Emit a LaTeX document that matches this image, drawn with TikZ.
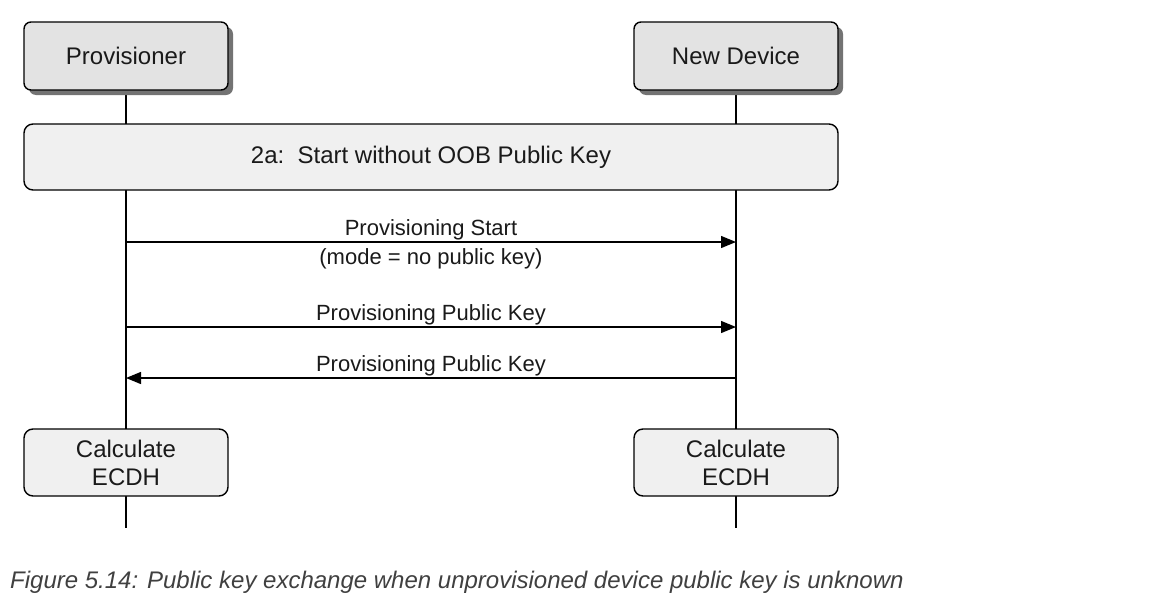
\documentclass[tikz,border=0pt]{standalone}
\usepackage{fontspec}
\setmainfont{Liberation Sans}
\usetikzlibrary{arrows.meta,shadows}
\definecolor{txt}{HTML}{1A1A1A}
\definecolor{hdrfill}{HTML}{E3E3E3}
\definecolor{boxfill}{HTML}{F0F0F0}
\definecolor{capc}{HTML}{404040}
\tikzset{
  lbl/.style={font=\fontsize{22}{27}\selectfont, text=txt},
  big/.style={font=\fontsize{24}{28}\selectfont, text=txt},
  hdr/.style={draw=black, line width=1.4pt, rounded corners=7pt, fill=hdrfill,
    minimum width=204pt, minimum height=68pt, big,
    drop shadow={shadow xshift=5pt, shadow yshift=-5pt, fill=black!55, opacity=1}},
  band/.style={draw=black, line width=1.4pt, rounded corners=9pt, fill=boxfill,
    minimum width=814pt, minimum height=66pt, big},
  calc/.style={draw=black, line width=1.4pt, rounded corners=9pt, fill=boxfill,
    minimum width=204pt, minimum height=67pt, big, align=center, inner sep=0pt},
  life/.style={line width=1.4pt, black},
  msg/.style={line width=1.3pt, black, -{Triangle[length=15pt,width=12pt]}},
}
\begin{document}
\begin{tikzpicture}[x=1pt,y=-1pt]
\useasboundingbox[fill=white] (0,0) rectangle (1159,608);
% lifelines
\coordinate (pt) at (126,90);
\coordinate (pb) at (126,528);
\coordinate (dt) at (736,90);
\coordinate (db) at (736,528);
\draw[life] (pt) -- (pb);
\draw[life] (dt) -- (db);
% header boxes
\node[hdr] (prov) at (126,56) {Provisioner};
\node[hdr] (dev) at (736,56) {New Device};
% band
\node[band] (start) at (431,157) {2a:\ \ Start without OOB Public Key};
% messages
\coordinate (p1) at (126,242); \coordinate (d1) at (736,242);
\coordinate (p2) at (126,327); \coordinate (d2) at (736,327);
\coordinate (p3) at (126,378); \coordinate (d3) at (736,378);
\draw[msg] (p1) -- (d1)
  node[midway, lbl, above=-2pt] (m1a) {Provisioning Start}
  node[midway, lbl, below=2.5pt] (m1b) {(mode = no public key)};
\draw[msg] (p2) -- (d2) node[midway, lbl, above=-2pt] (m2) {Provisioning Public Key};
\draw[msg] (d3) -- (p3) node[midway, lbl, above=-2pt] (m3) {Provisioning Public Key};
% calculate boxes
\node[calc] (pc) at (126,462.5) {Calculate\\ECDH};
\node[calc] (dc) at (736,462.5) {Calculate\\ECDH};
% caption
\node[anchor=west, text=capc, font=\fontsize{24}{28}\selectfont\itshape, inner sep=0pt] (cap) at (10,582)
  {Figure 5.14: Public key exchange when unprovisioned device public key is unknown};
\end{tikzpicture}
\end{document}
